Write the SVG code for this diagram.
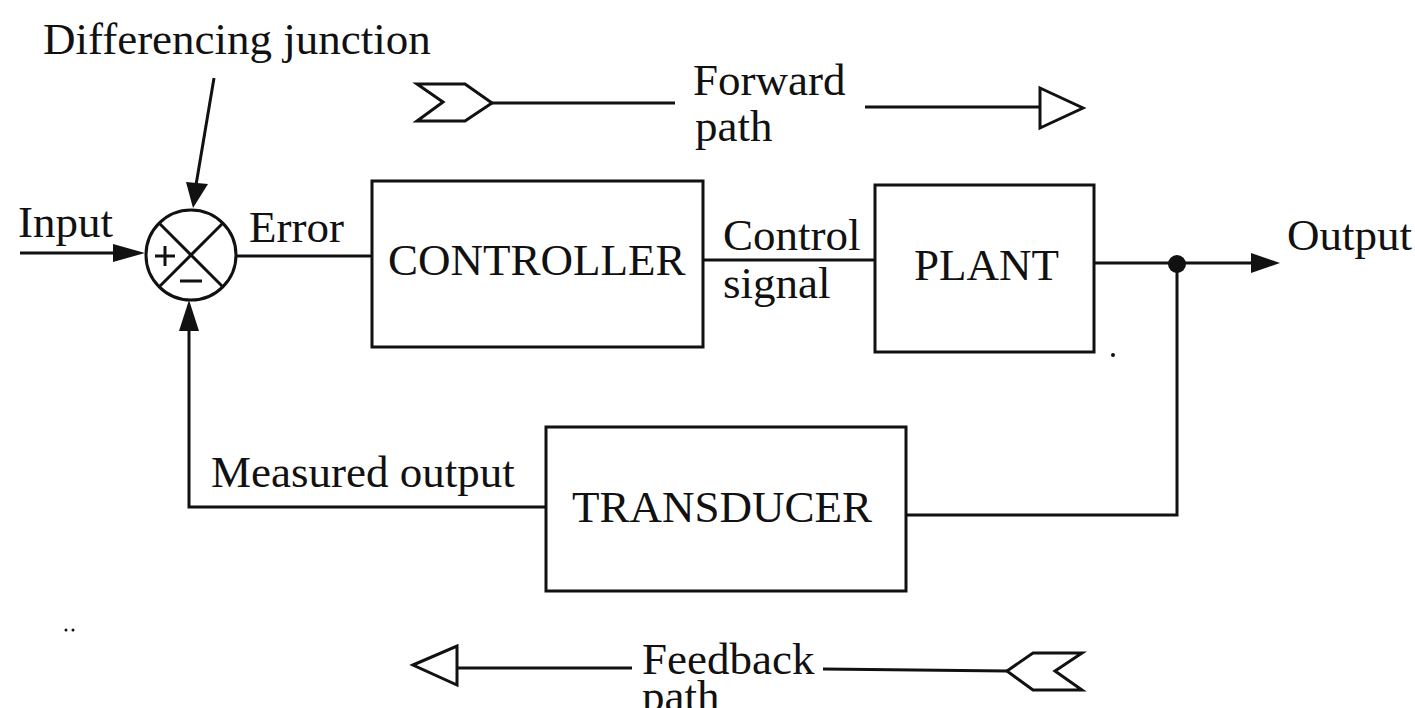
<svg xmlns="http://www.w3.org/2000/svg" width="1415" height="708" viewBox="0 0 1415 708">
<style>
text{font-family:"Liberation Serif","Times New Roman",serif;font-size:45px;fill:#111}
.box{fill:#fff;stroke:#111;stroke-width:3}
.ln{fill:none;stroke:#111;stroke-width:3}
.hd{fill:#111;stroke:none}
.oh{fill:#fff;stroke:#111;stroke-width:3;stroke-linejoin:miter}
</style>
<rect width="1415" height="708" fill="#fff"/>
<g id="connectors">
<line class="ln" x1="20" y1="253" x2="120" y2="253"/>
<polygon class="hd" points="145,253 113,244 113,262"/>
<line class="ln" x1="214" y1="78" x2="196" y2="185"/>
<polygon class="hd" points="193,208 186,182 208,184"/>
<line class="ln" x1="236" y1="256" x2="372" y2="256"/>
<line class="ln" x1="703" y1="260" x2="875" y2="260"/>
<line class="ln" x1="1094" y1="263" x2="1255" y2="263"/>
<polygon class="hd" points="1280,263 1251,253 1251,273"/>
<circle cx="1177" cy="264" r="9" fill="#111"/>
<polyline class="ln" points="1177,264 1177,515 906,515"/>
<polyline class="ln" points="546,507 189,507 189,325"/>
<polygon class="hd" points="189,300 179,331 199,331"/>
</g>
<g id="junction">
<circle cx="191" cy="255" r="45" fill="#fff" stroke="#111" stroke-width="3"/>
<line class="ln" x1="159" y1="223" x2="223" y2="287"/>
<line class="ln" x1="223" y1="223" x2="159" y2="287"/>
<line class="ln" x1="155" y1="256" x2="175" y2="256"/>
<line class="ln" x1="165" y1="246" x2="165" y2="266"/>
<line class="ln" x1="180" y1="281" x2="202" y2="281"/>
</g>
<g id="controller">
<rect class="box" x="372" y="181" width="331" height="166"/>
<text x="388" y="275">CONTROLLER</text>
</g>
<g id="plant">
<rect class="box" x="875" y="185" width="219" height="167"/>
<text x="914" y="280">PLANT</text>
</g>
<g id="transducer">
<rect class="box" x="546" y="427" width="360" height="164"/>
<text x="572" y="522">TRANSDUCER</text>
</g>
<g id="labels">
<text x="43" y="54">Differencing junction</text>
<text x="18" y="237">Input</text>
<text x="249" y="242">Error</text>
<text x="723" y="250">Control</text>
<text x="723" y="298">signal</text>
<text x="1287" y="250">Output</text>
<text x="211" y="487">Measured output</text>
</g>
<g id="forward-path">
<polygon class="oh" points="417,84 465,84 492,103 465,121 417,121 443,102"/>
<line class="ln" x1="492" y1="103" x2="675" y2="103"/>
<text x="693" y="95">Forward</text>
<text x="695" y="141">path</text>
<line class="ln" x1="865" y1="107" x2="1040" y2="107"/>
<polygon class="oh" points="1040,88 1083,108 1040,128"/>
</g>
<g id="feedback-path">
<polygon class="oh" points="413,665 457,646 457,685"/>
<line class="ln" x1="457" y1="668" x2="632" y2="668"/>
<text x="642" y="674">Feedback</text>
<text x="642" y="711">path</text>
<line class="ln" x1="823" y1="669" x2="1007" y2="671"/>
<polygon class="oh" points="1007,671 1033,653 1082,653 1055,671 1082,690 1033,690"/>
</g>
<circle cx="1113" cy="355" r="2" fill="#111"/>
<circle cx="66" cy="630" r="1.5" fill="#111"/>
<circle cx="73" cy="630" r="1.5" fill="#111"/>
</svg>
